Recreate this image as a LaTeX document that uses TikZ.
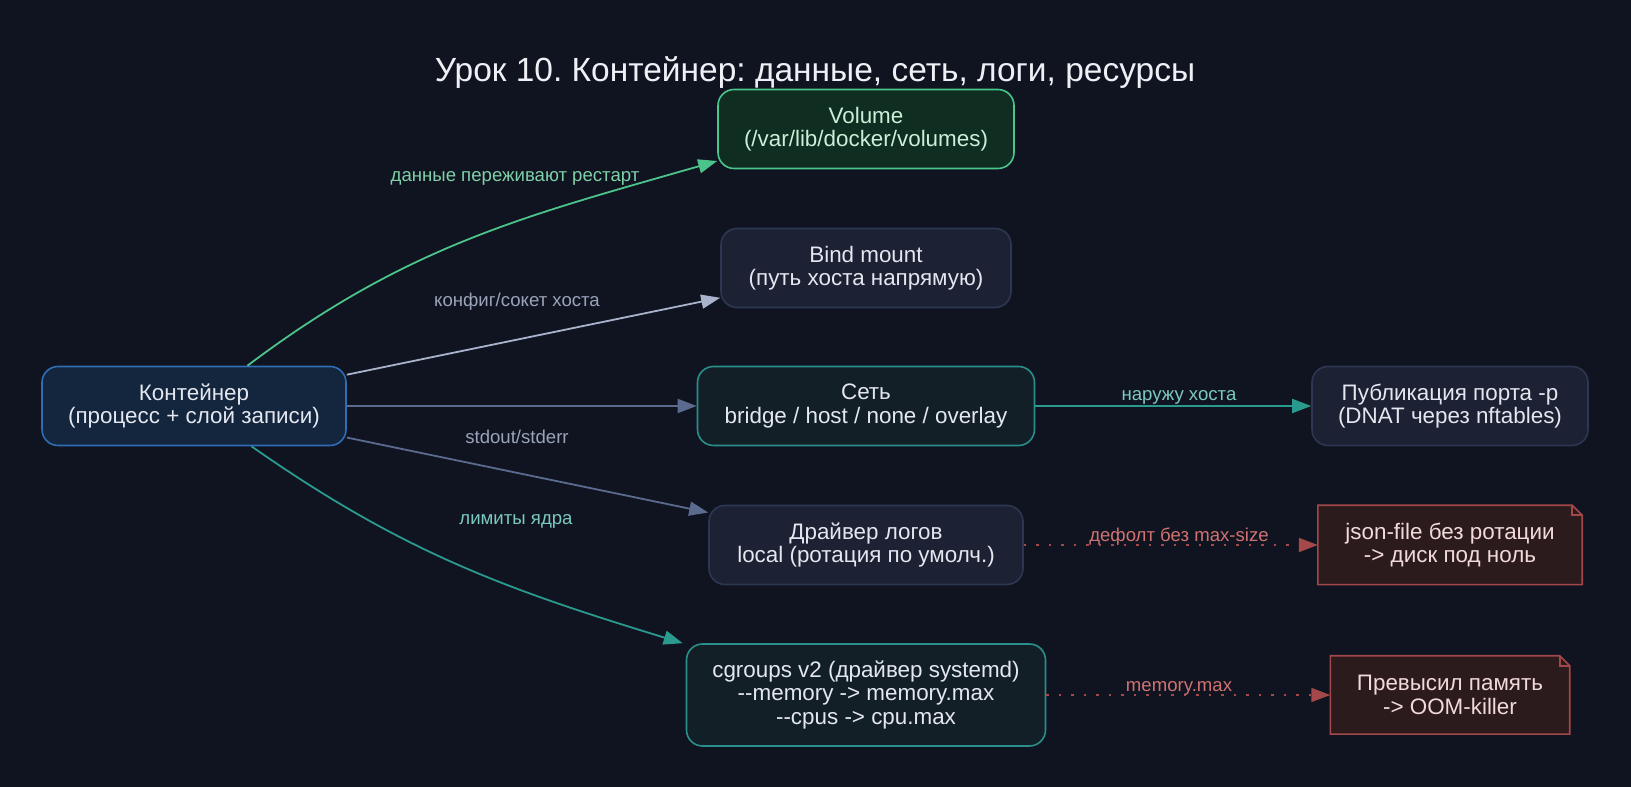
\documentclass[tikz,border=0pt]{standalone}
\usepackage{fontspec}
\setmainfont{Liberation Sans}
\usepackage{xcolor,tikz}
\usetikzlibrary{positioning,calc,arrows.meta,backgrounds}
\frenchspacing
\definecolor{dkBack}{HTML}{0F1420}
\definecolor{dkTitle}{HTML}{EEF0F5}
\definecolor{dkText}{HTML}{E4E7F0}
\definecolor{dkContFill}{HTML}{14263D}
\definecolor{dkContLine}{HTML}{2F6DB5}
\definecolor{dkVolFill}{HTML}{0F2D20}
\definecolor{dkVolLine}{HTML}{4AC58C}
\definecolor{dkVolText}{HTML}{CDEFD9}
\definecolor{dkPlainFill}{HTML}{1C2133}
\definecolor{dkPlainLine}{HTML}{2D3752}
\definecolor{dkTealFill}{HTML}{131F27}
\definecolor{dkTealLine}{HTML}{2A8F8A}
\definecolor{dkNoteFill}{HTML}{2C1B1C}
\definecolor{dkNoteLine}{HTML}{A3484A}
\definecolor{dkNoteText}{HTML}{F2DADA}
\definecolor{dkGreenEdge}{HTML}{4CC38A}
\definecolor{dkGreenLabel}{HTML}{7FD0A8}
\definecolor{dkGreyEdge}{HTML}{A9B3CB}
\definecolor{dkGreyLabel}{HTML}{9AA3BA}
\definecolor{dkSlateEdge}{HTML}{5B6A8F}
\definecolor{dkTealEdge}{HTML}{2A9A8F}
\definecolor{dkTealLabel}{HTML}{7CC9C0}
\definecolor{dkRedEdge}{HTML}{A4484A}
\definecolor{dkRedLabel}{HTML}{D07272}
\tikzset{
  base box/.style={
    rectangle, rounded corners=16pt, line width=1.6pt,
    minimum height=79pt, inner sep=0pt, align=center,
    font=\fontsize{22.4}{23.5}\selectfont, text=dkText,
  },
  cont box/.style={base box, draw=dkContLine, fill=dkContFill},
  vol box/.style={base box, draw=dkVolLine, fill=dkVolFill, text=dkVolText},
  plain box/.style={base box, draw=dkPlainLine, fill=dkPlainFill},
  teal box/.style={base box, draw=dkTealLine, fill=dkTealFill},
  note box/.style={
    rectangle, minimum height=79pt, inner sep=0pt, align=center,
    font=\fontsize{22.4}{23.5}\selectfont, text=dkNoteText,
  },
  note line/.style={draw=dkNoteLine, fill=dkNoteFill, line width=1.6pt},
  flow/.style={
    line width=1.8pt, color=#1,
    -{Triangle[length=19pt,width=14pt]},
  },
  flow dots/.style={
    flow=#1, dash pattern=on 2.5pt off 10pt,
  },
  edge label/.style={
    font=\fontsize{18.6}{20}\selectfont, text=#1, inner sep=0pt,
  },
}
\begin{document}
\begin{tikzpicture}[x=1pt,y=1pt]

\useasboundingbox (0,0) rectangle (1631,787);
\begin{scope}[on background layer]
  \fill[dkBack] (0,0) rectangle (1631,787);
\end{scope}

%% Title =============================================================
\node[font=\fontsize{33.5}{36}\selectfont, text=dkTitle] (title) at (815,714)
  {Урок 10. Контейнер: данные, сеть, логи, ресурсы};

%% Nodes =============================================================
\node[cont box, minimum width=304pt] (cont) at (194,381)
  {Контейнер\\(процесс + слой записи)};

\node[vol box, minimum width=296pt] (vol) at (866,658)
  {Volume\\(/var/lib/docker/volumes)};
\node[plain box, minimum width=290pt] (bind) at (866,519)
  {Bind mount\\(путь хоста напрямую)};
\node[teal box, minimum width=337pt] (net) at (866,381)
  {Сеть\\bridge / host / none / overlay};
\node[plain box, minimum width=314pt] (logs) at (866,242)
  {Драйвер логов\\local (ротация по умолч.)};
\node[teal box, minimum width=359pt, minimum height=102pt] (cg) at (866,92)
  {cgroups v2 (драйвер systemd)\\-{}-memory -> memory.max\\-{}-cpus -> cpu.max};

\node[plain box, minimum width=276pt] (pub) at (1450,381)
  {Публикация порта -p\\(DNAT через nftables)};
\node[note box, minimum width=264pt] (json) at (1450,242)
  {json-file без ротации\\-> диск под ноль};
\node[note box, minimum width=239pt, minimum height=78pt] (oom) at (1450,92)
  {Превысил память\\-> OOM-killer};

% folded corner of the note boxes
\begin{scope}[on background layer]
  \foreach \n in {json, oom} {
    \filldraw[note line] (\n.north west) -- ([xshift=-10pt]\n.north east)
      -- ([yshift=-10pt]\n.north east) -- (\n.south east) -- (\n.south west) -- cycle;
    \draw[note line, fill=none] ([xshift=-10pt]\n.north east)
      |- ([yshift=-10pt]\n.north east);
  }
\end{scope}

%% Edges =============================================================
\draw[flow=dkGreenEdge] (cont) to[out=37, in=196] ([yshift=-32pt]vol.west);
\draw[flow=dkGreyEdge] (cont) -- (bind);
\draw[flow=dkSlateEdge] (cont) -- (net);
\draw[flow=dkSlateEdge] (cont) -- (logs);
\draw[flow=dkTealEdge] (cont) to[out=-35, in=163] ([xshift=-3pt]cg.north west);
\draw[flow=dkTealEdge] (net) -- (pub);
\draw[flow dots=dkRedEdge] (logs) -- (json);
\draw[flow dots=dkRedEdge] (cg) -- (oom);

% Edge labels
\node[edge label=dkGreenLabel] (lVol) at (515,609) {данные переживают рестарт};
\node[edge label=dkGreyLabel] (lBind) at (517,485) {конфиг/сокет хоста};
\node[edge label=dkGreyLabel] (lLogs) at (517,350) {stdout/stderr};
\node[edge label=dkTealLabel] (lCg) at (516,266) {лимиты ядра};
\node[edge label=dkTealLabel] (lPub) at (1179,390) {наружу хоста};
\node[edge label=dkRedLabel] (lJson) at (1179,250) {дефолт без max-size};
\node[edge label=dkRedLabel] (lOom) at (1179,99) {memory.max};

\end{tikzpicture}
\end{document}
